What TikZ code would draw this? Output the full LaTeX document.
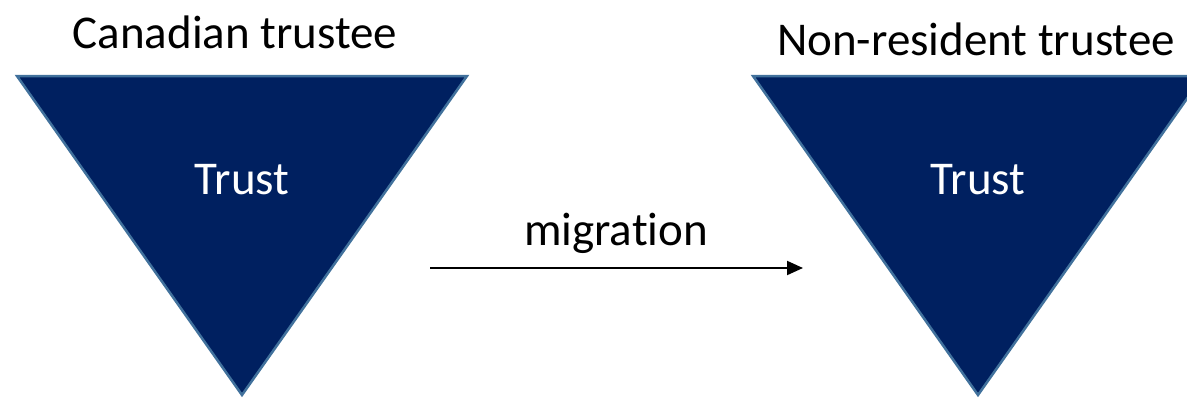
\documentclass[tikz,border=0pt]{standalone}
\usepackage{fontspec}
\setmainfont{Carlito}[Ligatures=NoCommon]
\usetikzlibrary{arrows.meta}
\definecolor{trustfill}{HTML}{002060}
\definecolor{trustedge}{HTML}{41719C}
\tikzset{
  trustshape/.style={fill=trustfill, draw=trustedge, line width=2.5pt, line join=miter},
  darklabel/.style={font=\fontsize{47}{50}\selectfont, text=black, anchor=base, inner sep=0pt},
  lightlabel/.style={font=\fontsize{47}{50}\selectfont, text=white, anchor=base, inner sep=0pt},
  flow/.style={line width=2pt, -{Triangle[length=16pt,width=14pt]}}
}
\begin{document}
\begin{tikzpicture}[x=1pt,y=-1pt]
  \useasboundingbox (0,0) rectangle (1187,397);
  \begin{scope}
    \clip (0,0) rectangle (1187,397);
    % inverted triangles for the trust before and after
    \draw[trustshape] (17,76) -- (467,76) -- (242,395) -- cycle;
    \draw[trustshape] (753,76) -- (1203,76) -- (978,395) -- cycle;
  \end{scope}
  \node[darklabel] (ctrustee) at (235,48) {Canadian trustee};
  \node[darklabel] (ntrustee) at (976,55) {Non-resident trustee};
  \node[lightlabel] (ltrust) at (242,194) {Trust};
  \node[lightlabel] (rtrust) at (978,194) {Trust};
  \node[darklabel] (mig) at (616,245) {migration};
  \coordinate (migstart) at (430,268);
  \coordinate (migend) at (803,268);
  \draw[flow] (migstart) -- (migend);
\end{tikzpicture}
\end{document}
